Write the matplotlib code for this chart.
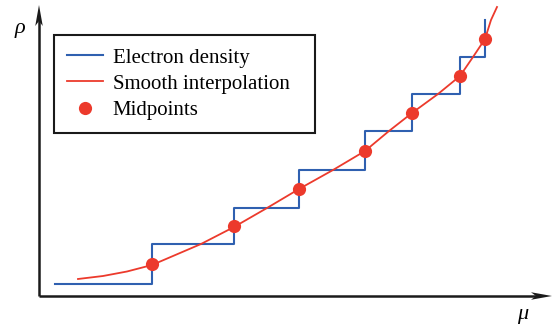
import matplotlib.pyplot as plt
from matplotlib.patches import Polygon
import numpy as np

plt.rcParams['font.family'] = ['Liberation Serif', 'DejaVu Serif']

# step positions (chemical potential) and density plateaus
mu_start = 0.32
mu_steps = [2.26, 3.90, 5.20, 6.52, 7.46, 8.42, 8.92]
rho_levels = [0.24, 1.04, 1.76, 2.52, 3.30, 4.04, 4.78, 5.52]

# smooth curve read through the midpoints
curve_mu = [0.78, 1.28, 1.76, 2.26, 3.24, 3.90, 4.56, 5.20, 5.88, 6.52,
            7.00, 7.46, 7.98, 8.42, 8.68, 8.92, 9.04, 9.16]
curve_rho = [0.34, 0.40, 0.49, 0.62, 1.04, 1.38, 1.76, 2.14, 2.52, 2.90,
             3.30, 3.66, 4.04, 4.40, 4.78, 5.14, 5.52, 5.78]

blue = '#2f60b0'
red = '#ec3a2c'

W, H = 553, 327
ox, oy, scale = 39, 296, 50.0   # origin in pixels, pixels per unit

fig = plt.figure(figsize=(W / 100, H / 100), dpi=100)
ax = fig.add_axes([0, 0, 1, 1])
ax.set_xlim(-ox / scale, (W - ox) / scale)
ax.set_ylim((oy - H) / scale, oy / scale)
ax.axis('off')

step_x = [mu_start] + mu_steps
ax.step(step_x, rho_levels, where='post', color=blue, lw=1.5, label='Electron density')
ax.plot(curve_mu, curve_rho, color=red, lw=1.3, label='Smooth interpolation')
mid_rho = [(a + b) / 2 for a, b in zip(rho_levels[:-1], rho_levels[1:])]
ax.plot(mu_steps, mid_rho, 'o', color=red, ms=9.5, mec='none', label='Midpoints')

# axes with arrow heads
x_end = (552 - ox) / scale
y_end = (oy - 5) / scale
ax.plot([0, x_end - 0.3], [0, 0], color='#1a1a1a', lw=1.8, solid_capstyle='butt')
ax.plot([0, 0], [0, y_end - 0.3], color='#1a1a1a', lw=1.8, solid_capstyle='butt')
hl, hw, notch = 0.42, 0.075, 0.32
ax.add_patch(Polygon([[x_end, 0], [x_end - hl, hw], [x_end - notch, 0], [x_end - hl, -hw]],
                     closed=True, color='#1a1a1a', lw=0))
ax.add_patch(Polygon([[0, y_end], [hw, y_end - hl], [0, y_end - notch], [-hw, y_end - hl]],
                     closed=True, color='#1a1a1a', lw=0))

ax.text((20 - ox) / scale, (oy - 28) / scale, 'ρ', fontsize=16, style='italic',
        ha='center', va='center')
ax.text((523 - ox) / scale, (oy - 315) / scale, 'μ', fontsize=16, style='italic',
        ha='center', va='center')

leg = ax.legend(loc='upper left', bbox_to_anchor=(54 / W, 1 - 132 / H, (315 - 54) / W, (132 - 35) / H),
                bbox_transform=fig.transFigure, mode='expand', borderaxespad=0,
                fontsize=15, frameon=True, fancybox=False, framealpha=1,
                edgecolor='#1a1a1a', handlelength=1.75, handletextpad=0.45,
                borderpad=0.62, labelspacing=0.32, numpoints=1)
leg.get_frame().set_linewidth(1.5)

fig.savefig('out.png', dpi=100)
